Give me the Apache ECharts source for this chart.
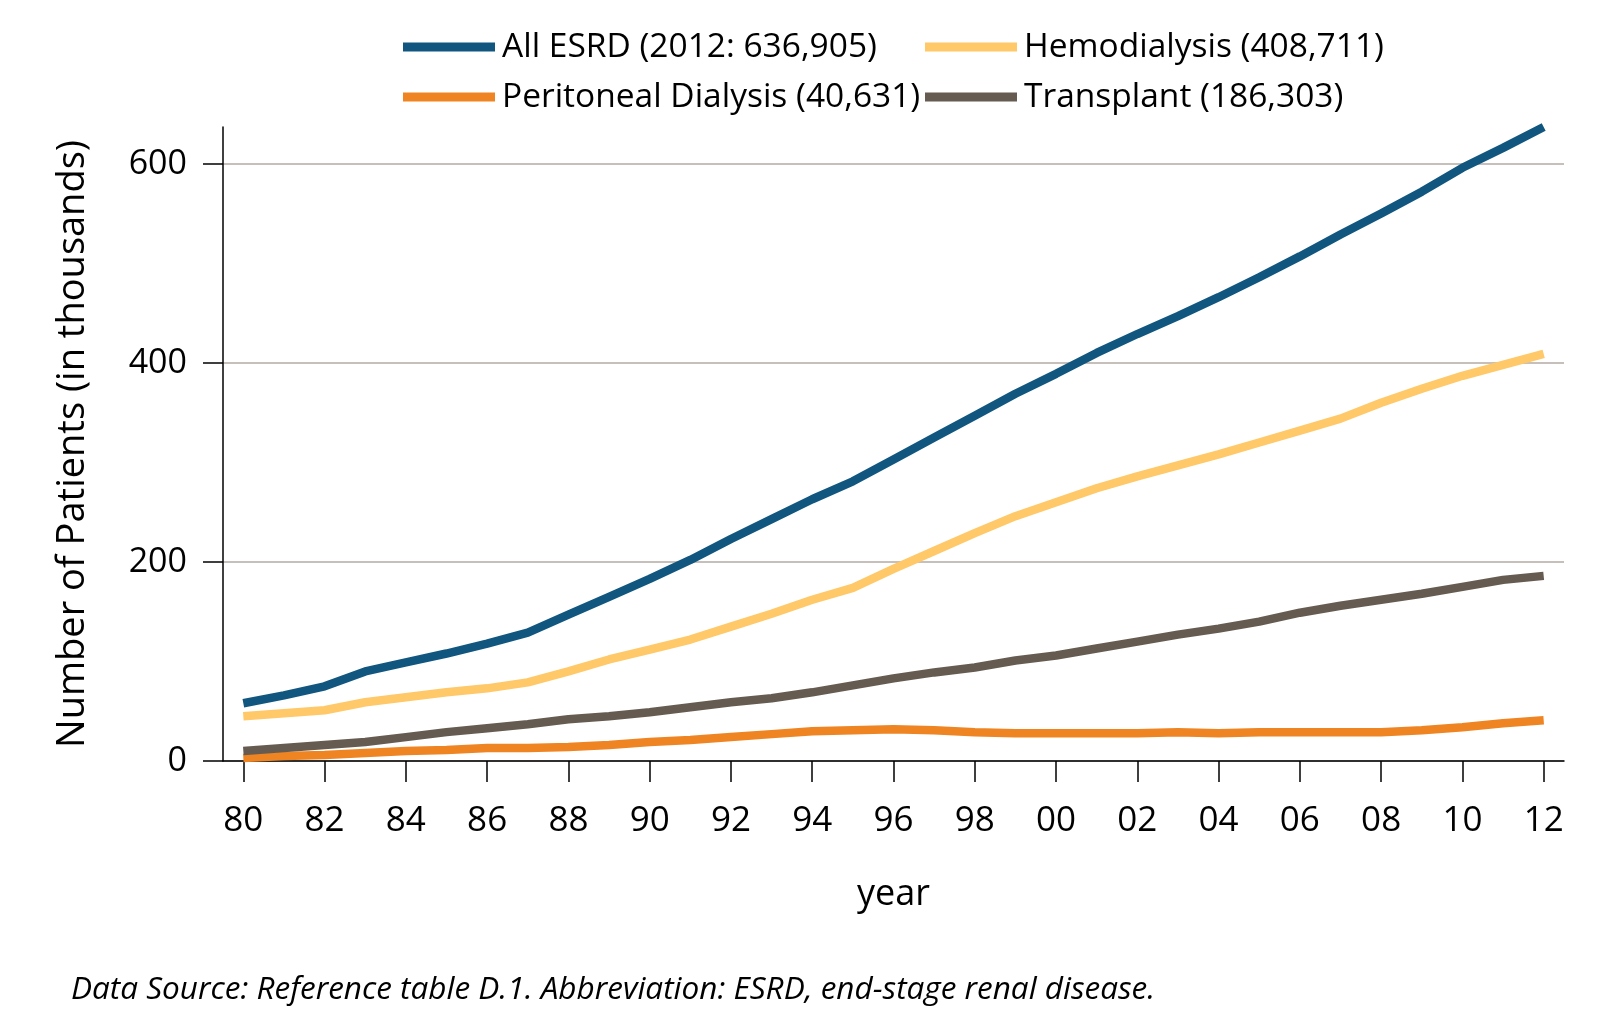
<!DOCTYPE html>
<html>
<head>
<meta charset="utf-8">
<script src="https://cdn.jsdelivr.net/npm/echarts@6/dist/echarts.min.js"></script>
<style>
html,body{margin:0;padding:0;background:#fff;}
#chart{width:1614px;height:1021px;}
</style>
</head>
<body>
<div id="chart"></div>
<script>
const years = ['80','81','82','83','84','85','86','87','88','89','90','91','92','93','94','95','96','97','98','99','00','01','02','03','04','05','06','07','08','09','10','11','12'];
const allEsrd = [58,66,75,90,99,108,118,129,147,165,183,202,223,243,263,281,303,325,347,369,389,410,429,447,466,486,507,529,550,572,596,616,637];
const hemodialysis = [45,48,51,59,64,69,73,79,90,102,112,122,135,148,162,174,193,211,229,246,260,274,286,297,308,320,332,344,360,374,387,398,409];
const peritoneal = [3,5,6,8,10,11,13,13,14,16,19,21,24,27,30,31,32,31,29,28,28,28,28,29,28,29,29,29,29,31,34,38,41];
const transplant = [10,13,16,19,24,29,33,37,42,45,49,54,59,63,69,76,83,89,94,101,106,113,120,127,133,140,149,156,162,168,175,182,186];
const seriesNames = ['All ESRD (2012: 636,905)','Hemodialysis (408,711)','Peritoneal Dialysis (40,631)','Transplant (186,303)'];
const yTicks = [0,200,400,600];

const colors = ['#10567f','#ffc868','#ef8423','#665b51'];
const legendPos = [[403,27],[925,27],[403,77],[925,77]];
const font = 'Open Sans';

const chart = echarts.init(document.getElementById('chart'));
const dataSets = [allEsrd, hemodialysis, peritoneal, transplant];

chart.setOption({
  animation:false,
  backgroundColor:'#fff',
  legend: seriesNames.map((n,i)=>({
    data:[n], left:legendPos[i][0], top:legendPos[i][1], padding:0,
    icon:'rect', itemWidth:92, itemHeight:9,
    textStyle:{fontFamily:font, fontSize:33.5, color:'#000', lineHeight:40, padding:[0,0,0,2]}
  })),
  grid:{left:223, right:50, top:127, bottom:260, containLabel:false},
  xAxis:{
    type:'category', data:years, boundaryGap:true,
    name:'year', nameLocation:'middle', nameGap:116,
    nameTextStyle:{fontFamily:font, fontSize:36, color:'#000'},
    axisLine:{lineStyle:{color:'#000', width:1.5}},
    axisTick:{show:true, alignWithLabel:true, interval:1, length:21, lineStyle:{color:'#000', width:1.5}},
    axisLabel:{interval:1, margin:43, fontFamily:font, fontSize:35, color:'#000'},
    splitLine:{show:false}
  },
  yAxis:{
    type:'value', min:0, max:637, interval:200,
    name:'Number of Patients (in thousands)', nameLocation:'middle', nameGap:131,
    nameTextStyle:{fontFamily:font, fontSize:38, color:'#000'},
    axisLine:{show:true, lineStyle:{color:'#000', width:1.5}},
    axisTick:{show:true, length:20, customValues:yTicks, lineStyle:{color:'#000', width:1.5}},
    axisLabel:{margin:36, fontFamily:font, fontSize:34, color:'#000', customValues:yTicks},
    splitLine:{show:true, lineStyle:{color:['#b3aaa3','#b3aaa3','#b3aaa3','#b3aaa3','rgba(0,0,0,0)'], width:1.5}}
  },
  series: seriesNames.map((n,i)=>({
    name:n, type:'line', data:dataSets[i], showSymbol:false, symbol:'none',
    lineStyle:{color:colors[i], width:8.5}, itemStyle:{color:colors[i]}
  })),
  graphic:[{
    type:'text', left:71, top:974,
    style:{text:'Data Source: Reference table D.1. Abbreviation: ESRD, end-stage renal disease.',
      font:'italic 31.5px "Open Sans"', fill:'#000'}
  }]
});
</script>
</body>
</html>
